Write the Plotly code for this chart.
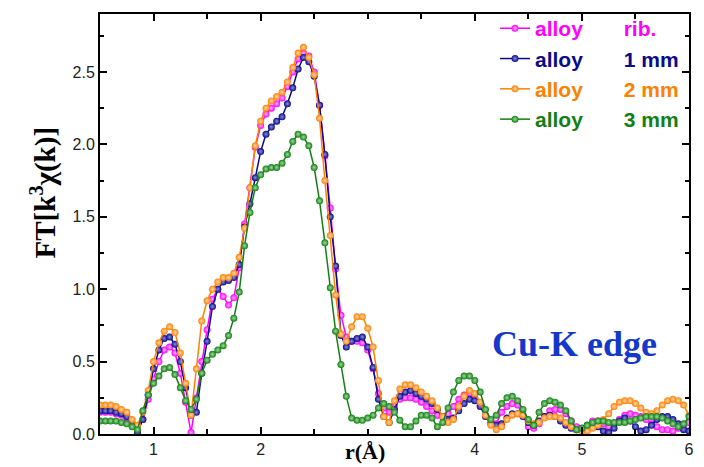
import numpy as np
import plotly.graph_objects as go

r = np.round(np.arange(0.5, 6.0001, 0.05), 2)

rib = [0.15, 0.15, 0.15, 0.14, 0.13, 0.11, 0.07, 0.03, 0.10, 0.24,
       0.38, 0.50, 0.58, 0.60, 0.56, 0.42, 0.22, 0.01, 0.25, 0.50,
       0.72, 0.93, 1.00, 0.95, 0.89, 0.94, 1.15, 1.45, 1.70, 1.98,
       2.13, 2.21, 2.25, 2.28, 2.32, 2.40, 2.50, 2.59, 2.63, 2.61,
       2.50, 2.27, 1.92, 1.56, 1.14, 0.82, 0.67, 0.64, 0.64, 0.63,
       0.58, 0.45, 0.28, 0.18, 0.15, 0.20, 0.24, 0.25, 0.25, 0.24,
       0.22, 0.19, 0.16, 0.13, 0.12, 0.14, 0.19, 0.24, 0.27, 0.28,
       0.25, 0.20, 0.13, 0.09, 0.07, 0.15, 0.19, 0.21, 0.20, 0.13,
       0.05, 0.04, 0.07, 0.12, 0.16, 0.17, 0.17, 0.14, 0.09, 0.05,
       0.04, 0.06, 0.09, 0.09, 0.07, 0.05, 0.07, 0.10, 0.13, 0.14,
       0.13, 0.12, 0.10, 0.07, 0.05, 0.03, 0.03, 0.02, 0.04, 0.06,
       0.08]

mm1 = [0.16, 0.16, 0.16, 0.15, 0.14, 0.12, 0.07, 0.01, 0.10, 0.27,
       0.45, 0.58, 0.66, 0.67, 0.62, 0.50, 0.32, 0.13, 0.15, 0.42,
       0.64, 0.88, 1.00, 1.05, 1.06, 1.08, 1.17, 1.43, 1.59, 1.77,
       1.95, 2.07, 2.12, 2.16, 2.19, 2.28, 2.39, 2.52, 2.60, 2.57,
       2.47, 2.27, 1.93, 1.50, 1.16, 0.68, 0.60, 0.64, 0.66, 0.67,
       0.60, 0.46, 0.24, 0.12, 0.08, 0.17, 0.26, 0.29, 0.30, 0.28,
       0.26, 0.24, 0.21, 0.17, 0.12, 0.10, 0.11, 0.16, 0.21, 0.24,
       0.23, 0.19, 0.12, 0.07, 0.06, 0.07, 0.11, 0.14, 0.14, 0.12,
       0.08, 0.06, 0.09, 0.12, 0.13, 0.12, 0.09, 0.06, 0.04, 0.03,
       0.04, 0.06, 0.07, 0.05, 0.02, 0.01, 0.04, 0.09, 0.11, 0.09,
       0.05, 0.02, 0.03, 0.06, 0.10, 0.12, 0.12, 0.10, 0.07, 0.03,
       0.02]

mm2 = [0.20, 0.20, 0.20, 0.19, 0.17, 0.15, 0.10, 0.06, 0.15, 0.30,
       0.50, 0.63, 0.71, 0.74, 0.70, 0.56, 0.35, 0.13, 0.45, 0.78,
       0.92, 1.00, 1.05, 1.08, 1.08, 1.11, 1.22, 1.42, 1.70, 1.99,
       2.16, 2.25, 2.30, 2.33, 2.36, 2.43, 2.53, 2.63, 2.67, 2.60,
       2.48, 2.18, 1.75, 1.37, 0.96, 0.69, 0.64, 0.74, 0.81, 0.81,
       0.73, 0.60, 0.37, 0.12, 0.08, 0.23, 0.31, 0.34, 0.34, 0.32,
       0.29, 0.26, 0.23, 0.18, 0.12, 0.08, 0.10, 0.19, 0.26, 0.30,
       0.28, 0.22, 0.13, 0.06, 0.03, 0.05, 0.10, 0.13, 0.14, 0.13,
       0.09, 0.07, 0.08, 0.11, 0.12, 0.12, 0.11, 0.08, 0.05, 0.03,
       0.02, 0.02, 0.04, 0.06, 0.10, 0.14, 0.19, 0.22, 0.23, 0.23,
       0.21, 0.18, 0.15, 0.14, 0.16, 0.20, 0.23, 0.24, 0.23, 0.20,
       0.13]

mm3 = [0.09, 0.09, 0.09, 0.09, 0.08, 0.07, 0.05, 0.03, 0.16, 0.27,
       0.35, 0.40, 0.45, 0.46, 0.41, 0.32, 0.23, 0.17, 0.24, 0.42,
       0.51, 0.55, 0.58, 0.61, 0.68, 0.80, 0.98, 1.30, 1.53, 1.70,
       1.79, 1.83, 1.84, 1.84, 1.87, 1.93, 2.02, 2.07, 2.05, 1.99,
       1.84, 1.61, 1.32, 1.01, 0.71, 0.48, 0.26, 0.11, 0.095, 0.095,
       0.11, 0.13, 0.18, 0.21, 0.19, 0.15, 0.095, 0.05, 0.05, 0.09,
       0.13, 0.13, 0.11, 0.05, 0.08, 0.18, 0.29, 0.37, 0.40, 0.40,
       0.37, 0.29, 0.17, 0.10, 0.13, 0.21, 0.25, 0.26, 0.23, 0.17,
       0.10, 0.06, 0.15, 0.21, 0.23, 0.22, 0.20, 0.16, 0.09, 0.03,
       0.04, 0.06, 0.08, 0.09, 0.09, 0.08, 0.08, 0.08, 0.08, 0.09,
       0.10, 0.11, 0.12, 0.12, 0.12, 0.11, 0.09, 0.07, 0.05, 0.07,
       0.12]

series_names = ["alloy", "alloy", "alloy", "alloy"]
series_tags = ["rib.", "1 mm", "2 mm", "3 mm"]
series_vals = [rib, mm1, mm2, mm3]
colors = ["#ff00ff", "#0a0a8c", "#ff8000", "#128012"]
centers = ["#ffb3ff", "#8c8cd9", "#ffd9b3", "#9fd99f"]

x_ticks = [1, 2, 4, 5, 6]
x_ticklabels = ["1", "2", "4", "5", "6"]
y_ticks = [0.0, 0.5, 1.0, 1.5, 2.0, 2.5]
y_ticklabels = ["0.0", "0.5", "1.0", "1.5", "2.0", "2.5"]

fig = go.Figure()
gap = "\u00a0" * 7
for name, tag, vals, c, cc in zip(series_names, series_tags, series_vals, colors, centers):
    fig.add_trace(go.Scatter(
        x=r, y=vals, mode="lines+markers",
        name=f'<span style="color:{c}">{name}{gap}{tag}</span>',
        line=dict(color=c, width=1.5),
        marker=dict(color=c, size=7, line=dict(width=0),
                    gradient=dict(type="radial", color=cc)),
    ))

axis_common = dict(
    showline=True, linecolor="black", linewidth=2, mirror="ticks",
    ticks="inside", ticklen=7, tickwidth=1.5, tickcolor="black",
    showgrid=False, zeroline=False,
    tickfont=dict(family="Arial", size=16, color="#222"),
)

fig.update_xaxes(range=[0.5, 6.0], tickvals=x_ticks, ticktext=x_ticklabels,
                 minor=dict(ticks="inside", dtick=0.5, ticklen=5, tickcolor="black", tickwidth=1.5),
                 **axis_common)
fig.update_yaxes(range=[0, 2.9], tickvals=y_ticks, ticktext=y_ticklabels,
                 minor=dict(ticks="inside", dtick=0.25, ticklen=4, tickcolor="black", tickwidth=1.5),
                 **axis_common)

fig.add_annotation(text="r(Å)", xref="paper", yref="paper",
                   x=(365 - 100) / 589, y=-(452 - 434) / 426, showarrow=False,
                   xanchor="center", yanchor="middle",
                   font=dict(family="Times New Roman", size=22, color="black", weight="bold"))
fig.add_annotation(text="FT[k<sup>3</sup>χ(k)]", xref="paper", yref="paper",
                   x=-(100 - 43) / 589, y=(434 - 190) / 426, showarrow=False,
                   textangle=-90, xanchor="center", yanchor="middle",
                   font=dict(family="Times New Roman", size=29, color="black", weight="bold"))
fig.add_annotation(text="Cu-K edge", xref="paper", yref="paper",
                   x=(574 - 100) / 589, y=(434 - 343) / 426, showarrow=False,
                   xanchor="center", yanchor="middle",
                   font=dict(family="Times New Roman", size=36, color="#1438c8", weight="bold"))

fig.update_layout(
    width=704, height=467,
    margin=dict(l=100, r=15, t=8, b=33),
    paper_bgcolor="white", plot_bgcolor="white",
    showlegend=True,
    legend=dict(x=(495 - 100) / 589, y=(434 - 2) / 426, xanchor="left", yanchor="top",
                bgcolor="rgba(0,0,0,0)", borderwidth=0,
                font=dict(family="Arial", size=21, weight="bold"),
                tracegroupgap=0),
)

fig.write_html("out.html")
